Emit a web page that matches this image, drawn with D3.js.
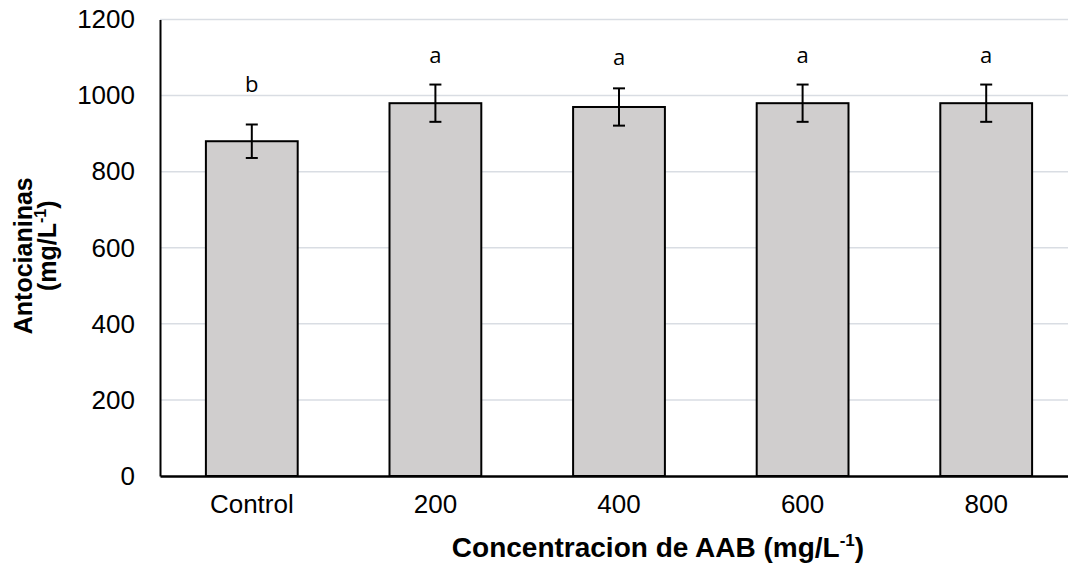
<!DOCTYPE html>
<html>
<head>
<meta charset="utf-8">
<script src="https://cdn.jsdelivr.net/npm/d3@7/dist/d3.min.js"></script>
<style>
  html, body { margin: 0; padding: 0; background: #fff; }
  svg { display: block; }
</style>
</head>
<body>
<svg id="chart" width="1068" height="566"></svg>
<script>
// Anthocyanin content per AAB concentration
const categories = ["Control", "200", "400", "600", "800"];
const means = [880, 980, 970, 980, 980];
const errors = [44, 49, 49, 49, 49];
const letters = ["b", "a", "a", "a", "a"];
const letterValues = [1010, 1086, 1080, 1086, 1086];
const yTicks = [0, 200, 400, 600, 800, 1000, 1200];

const svg = d3.select("#chart");
const W = 1068, H = 566;
const margin = { left: 160, right: -10, top: 19.5, bottom: 90 };
const plotW = W - margin.left - margin.right;
const plotH = H - margin.top - margin.bottom;

const x = d3.scaleBand().domain(categories).range([margin.left, margin.left + plotW]).paddingInner(0.5).paddingOuter(0.25);
const y = d3.scaleLinear().domain([0, 1200]).range([margin.top + plotH, margin.top]);

// gridlines
svg.append("g")
  .selectAll("line")
  .data(yTicks.filter(d => d > 0))
  .join("line")
  .attr("x1", margin.left).attr("x2", margin.left + plotW)
  .attr("y1", d => y(d)).attr("y2", d => y(d))
  .attr("stroke", "#d9dde3").attr("stroke-width", 1.5);

// bars
svg.append("g")
  .selectAll("rect")
  .data(categories)
  .join("rect")
  .attr("x", d => x(d))
  .attr("width", x.bandwidth())
  .attr("y", (d, i) => y(means[i]))
  .attr("height", (d, i) => y(0) - y(means[i]))
  .attr("fill", "#d0cece")
  .attr("stroke", "#000").attr("stroke-width", 2);

// error bars
const eb = svg.append("g").attr("stroke", "#000").attr("stroke-width", 2);
categories.forEach((c, i) => {
  const cx = x(c) + x.bandwidth() / 2;
  const top = y(means[i] + errors[i]);
  const bot = y(means[i] - errors[i]);
  eb.append("line").attr("x1", cx).attr("x2", cx).attr("y1", top).attr("y2", bot);
  eb.append("line").attr("x1", cx - 6).attr("x2", cx + 6).attr("y1", top).attr("y2", top);
  eb.append("line").attr("x1", cx - 6).attr("x2", cx + 6).attr("y1", bot).attr("y2", bot);
});

// significance letters
svg.append("g")
  .selectAll("text")
  .data(categories)
  .join("text")
  .attr("x", d => x(d) + x.bandwidth() / 2)
  .attr("y", (d, i) => y(letterValues[i]))
  .attr("text-anchor", "middle")
  .attr("font-family", "Open Sans, Lato, sans-serif")
  .attr("font-size", 22)
  .attr("fill", "#000")
  .text((d, i) => letters[i]);

// y axis
const yAxis = d3.axisLeft(y).tickValues(yTicks).tickFormat(d3.format("d")).tickSize(0).tickPadding(25);
const gy = svg.append("g").attr("transform", `translate(${margin.left},0)`).call(yAxis);
gy.select(".domain").attr("stroke", "#000").attr("stroke-width", 2);
gy.selectAll("text").attr("font-family", "Liberation Sans, Arial, sans-serif").attr("font-size", 26).attr("fill", "#000");

// x axis
const xAxis = d3.axisBottom(x).tickSize(0).tickPadding(19);
const gx = svg.append("g").attr("transform", `translate(0,${y(0)})`).call(xAxis);
gx.select(".domain").attr("stroke", "#000").attr("stroke-width", 2.5);
gx.selectAll("text").attr("font-family", "Liberation Sans, Arial, sans-serif").attr("font-size", 26).attr("fill", "#000");

// axis titles
const xt = svg.append("text")
  .attr("x", 658)
  .attr("y", 557)
  .attr("text-anchor", "middle")
  .attr("font-family", "Liberation Sans, Arial, sans-serif")
  .attr("font-weight", "bold")
  .attr("font-size", 28)
  .attr("fill", "#000");
xt.append("tspan").text("Concentracion de AAB (mg/L");
xt.append("tspan").attr("font-size", 17).attr("dy", -11).text("-1");
xt.append("tspan").attr("dy", 11).text(")");

const yt = svg.append("g")
  .attr("transform", `translate(0,${(y(0) + y(1200)) / 2}) rotate(-90)`)
  .attr("font-family", "Liberation Sans, Arial, sans-serif")
  .attr("font-weight", "bold")
  .attr("font-size", 25)
  .attr("fill", "#000");
yt.append("text").attr("x", -8).attr("y", 32).attr("text-anchor", "middle").text("Antocianinas");
const yt2 = yt.append("text").attr("x", 2).attr("y", 56).attr("text-anchor", "middle");
yt2.append("tspan").text("(mg/L");
yt2.append("tspan").attr("font-size", 16).attr("dy", -10).text("-1");
yt2.append("tspan").attr("dy", 10).text(")");
</script>
</body>
</html>
